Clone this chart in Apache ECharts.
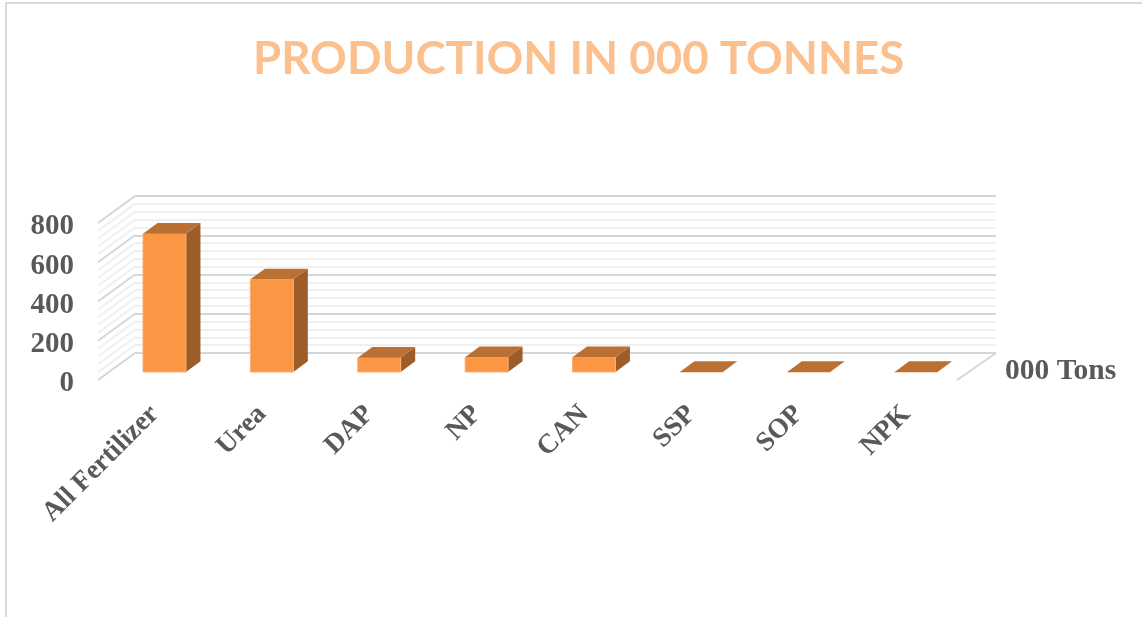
<!DOCTYPE html>
<html><head><meta charset="utf-8">
<style>html,body{margin:0;padding:0;background:#fff}#c{width:1142px;height:617px}</style>
<script src="https://cdn.jsdelivr.net/npm/echarts@6/dist/echarts.min.js"></script>
</head><body><div id="c"></div>
<script>
const categories = ['All Fertilizer','Urea','DAP','NP','CAN','SSP','SOP','NPK'];
const production = [705,472,73,75,75,0,0,0];
const wallLevels = [0,40,80,120,160,200,240,280,320,360,400,440,480,520,560,600,640,680,720,760,800];
const seriesName = '000 Tons';
const titleText = 'PRODUCTION IN 000 TONNES';

const serif = '"Liberation Serif"';
const majorLine = '#D6D6D6', minorLine = '#F0F0F0';
const chart = echarts.init(document.getElementById('c'));
chart.setOption({
  animation:false,
  backgroundColor:'#fff',
  title:{text:titleText,left:248,top:31,itemGap:0,
    textStyle:{fontFamily:'Lato',fontWeight:'bold',fontSize:45.6,color:'#FBC08E'}},
  legend:{data:[{name:seriesName,icon:'none'}],left:995,top:351,itemWidth:0,itemHeight:0,
    textStyle:{fontFamily:serif,fontWeight:'bold',fontSize:29.5,color:'#595959'}},
  graphic:[{type:'polyline',silent:true,z:-1,shape:{points:[[6,617],[6,3],[1142,3]]},style:{stroke:'#D9D9D9',lineWidth:2,fill:null}}],
  grid:[
    {left:98,width:859,top:223,height:157},
    {left:135,width:861,top:196,height:157},
    {left:101,width:859,top:227,height:157}
  ],
  xAxis:[
    {type:'category',gridIndex:0,data:categories,show:false},
    {type:'category',gridIndex:1,data:categories,show:false},
    {type:'category',gridIndex:2,data:categories,axisTick:{show:false},axisLine:{show:false},
     axisLabel:{rotate:45,margin:26,interval:0,fontFamily:serif,fontWeight:'bold',fontSize:27.5,color:'#595959'}}
  ],
  yAxis:[
    {type:'value',gridIndex:0,min:0,max:800,show:false},
    {type:'value',gridIndex:1,min:0,max:800,interval:200,axisLine:{show:false},axisTick:{show:false},axisLabel:{show:false},
     splitLine:{show:true,lineStyle:{color:majorLine,width:2}},
     minorTick:{show:false,splitNumber:5},
     minorSplitLine:{show:true,lineStyle:{color:minorLine,width:2}}},
    {type:'value',gridIndex:2,min:0,max:800,interval:200,splitLine:{show:false},axisLine:{show:false},axisTick:{show:false},
     axisLabel:{margin:27,fontFamily:serif,fontWeight:'bold',fontSize:29,color:'#595959'}}
  ],
  series:[
    {name:'walls',type:'custom',xAxisIndex:0,yAxisIndex:0,silent:true,z:1,legendHoverLink:false,
     data:wallLevels.map(v=>[0,v]),
     renderItem(params,api){
       const r=params.coordSys, v=api.value(1), p=api.coord([0,v]);
       const major=v%200===0;
       const children=[{type:'line',shape:{x1:r.x,y1:p[1],x2:r.x+37,y2:p[1]-27},
         style:{stroke:major?majorLine:minorLine,lineWidth:2}}];
       if(v===0) children.push({type:'line',shape:{x1:r.x+r.width,y1:p[1],x2:r.x+r.width+39,y2:p[1]-27},
         style:{stroke:majorLine,lineWidth:2}});
       return {type:'group',children};
     }},
    {name:seriesName,type:'custom',xAxisIndex:0,yAxisIndex:0,z:3,
     data:production.map((v,i)=>[i,v]),
     encode:{x:0,y:1},
     itemStyle:{color:'#FB9644'},
     renderItem(params,api){
       const base=api.coord([api.value(0),0]), top=api.coord([api.value(0),api.value(1)]);
       const w=api.size([1,0])[0]*0.4, dx=14.5, dy=10.7;
       const l=base[0]+12.8-w/2, r=l+w, by=base[1]-8, ty=top[1]-8;
       const kids=[];
       if(by-ty>0.5){
         kids.push({type:'polygon',shape:{points:[[r,ty],[r+dx,ty-dy],[r+dx,by-dy],[r,by]]},style:{fill:'#9C5D28'}});
         kids.push({type:'rect',shape:{x:l,y:ty,width:w,height:by-ty},style:{fill:'#FB9644',stroke:'#FBB074',lineWidth:1}});
       } else {
         kids.push({type:'line',shape:{x1:l,y1:by,x2:r,y2:by},style:{stroke:'#FBB074',lineWidth:1}});
       }
       kids.push({type:'polygon',shape:{points:[[l,ty],[l+dx,ty-dy],[r+dx,ty-dy],[r,ty]]},style:{fill:'#BA7033'}});
       return {type:'group',children:kids};
     }}
  ]
});
</script></body></html>
